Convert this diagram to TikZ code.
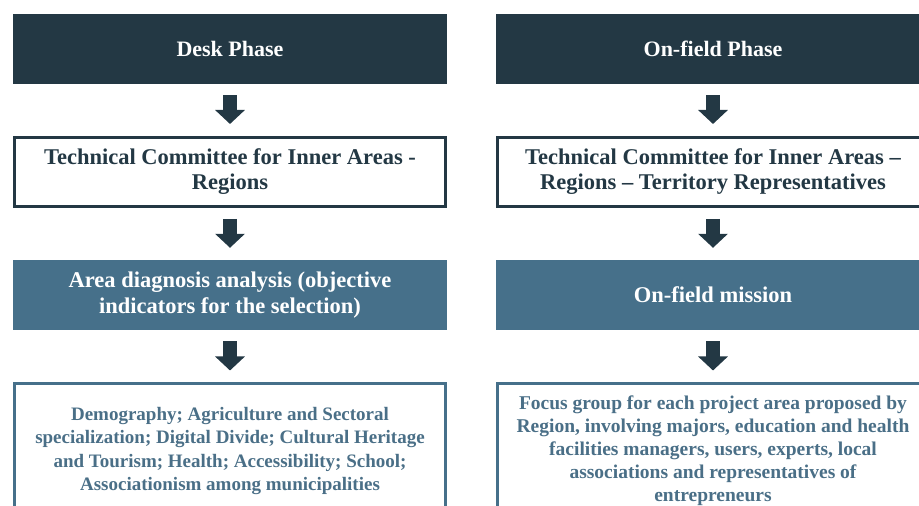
\documentclass[tikz,border=0pt]{standalone}
\usepackage{fontspec}
\setmainfont{Liberation Serif}
\usetikzlibrary{arrows.meta}
\definecolor{navy}{HTML}{233844}
\definecolor{steel}{HTML}{46708A}
\definecolor{steeltext}{HTML}{4A6F87}
\begin{document}
\begin{tikzpicture}[x=1pt,y=1pt,
  phase/.style={fill=navy,text=white,minimum width=434pt,minimum height=70pt,font=\fontsize{22}{26}\selectfont\bfseries},
  committee/.style={draw=navy,line width=3pt,fill=white,text=navy,align=center,minimum width=431pt,minimum height=69pt,font=\fontsize{22.5}{25}\selectfont\bfseries},
  analysis/.style={fill=steel,text=white,align=center,minimum width=434pt,minimum height=70pt,font=\fontsize{22.5}{26}\selectfont\bfseries},
  details/.style={draw=steel,line width=3pt,fill=white,text=steeltext,align=center,anchor=north,minimum width=431pt,minimum height=134pt,font=\fontsize{19}{23.5}\selectfont\bfseries},
  bigarrow/.style={navy,line width=14pt,-{Triangle[width=29pt,length=14pt]},shorten <=11pt,shorten >=12pt}]
  \useasboundingbox (0,0) rectangle (919,506);
  \clip (0,0) rectangle (919,506);

  \node[phase] (desk) at (230,457) {Desk Phase};
  \node[phase] (onfield) at (713,457) {On-field Phase};

  \node[committee] (tcleft) at (230,334) {Technical Committee for Inner Areas -\\Regions};
  \node[committee] (tcright) at (713,334) {Technical Committee for Inner Areas --\\Regions -- Territory Representatives};

  \node[analysis] (diagnosis) at (230,211) {Area diagnosis analysis (objective\\indicators for the selection)};
  \node[analysis] (mission) at (713,211) {On-field mission};

  \node[details] (indicators) at (230,123.5) {Demography; Agriculture and Sectoral\\specialization; Digital Divide; Cultural Heritage\\and Tourism; Health; Accessibility; School;\\Associationism among municipalities};
  \node[details,font=\fontsize{19.5}{23}\selectfont\bfseries] (focus) at (713,123.5) {Focus group for each project area proposed by\\Region, involving majors, education and health\\facilities managers, users, experts, local\\associations and representatives of\\entrepreneurs};

  \foreach \a\b in {desk/tcleft,tcleft/diagnosis,diagnosis/indicators,onfield/tcright,tcright/mission,mission/focus} {
    \draw[bigarrow] (\a) -- (\b);
  }

\end{tikzpicture}
\end{document}
